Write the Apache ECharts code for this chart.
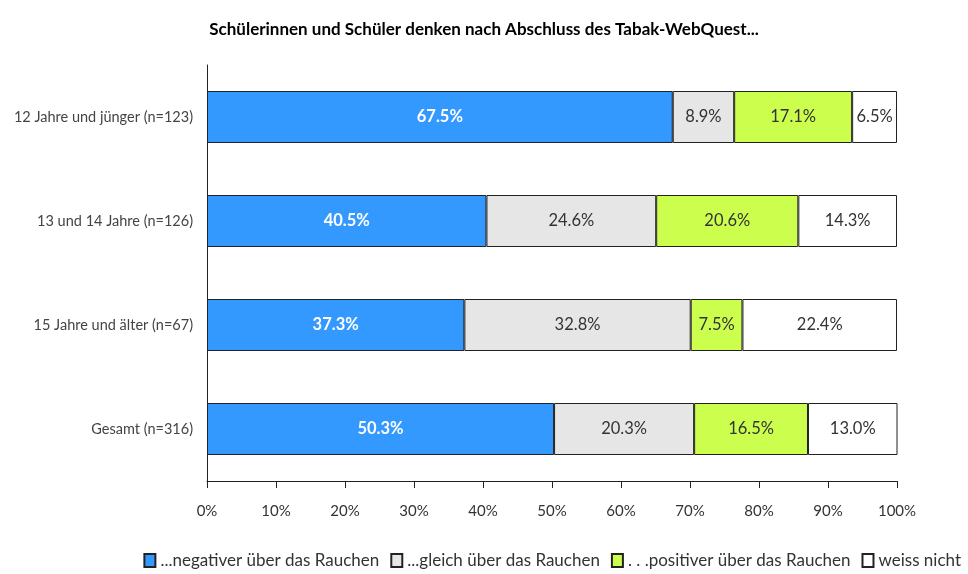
<!DOCTYPE html>
<html>
<head>
<meta charset="utf-8">
<script src="https://cdn.jsdelivr.net/npm/echarts@6/dist/echarts.min.js"></script>
<style>
html, body { margin: 0; padding: 0; background: #fff; }
#Chart { width: 968px; height: 574px; }
</style>
</head>
<body>
<div id="Chart"></div>
<script>
//Kategorien (von oben nach unten)
var categories = ['12 Jahre und jünger (n=123)', '13 und 14 Jahre (n=126)', '15 Jahre und älter (n=67)', 'Gesamt (n=316)'];
//Serien
var negativ = [67.5, 40.5, 37.3, 50.3];
var gleich = [8.9, 24.6, 32.8, 20.3];
var positiv = [17.1, 20.6, 7.5, 16.5];
var weissNicht = [6.5, 14.3, 22.4, 13.0];
var seriesNames = ['...negativer über das Rauchen', '...gleich über das Rauchen', '. . .positiver über das Rauchen', 'weiss nicht'];

var fontName = 'Lato';

function makeSeries(name, data, color, labelColor, bold) {
    return {
        name: name,
        type: 'bar',
        stack: 'total',
        barWidth: '50%',
        data: data,
        itemStyle: { color: color, borderColor: '#222', borderWidth: 1 },
        label: {
            show: true,
            position: 'inside',
            color: labelColor,
            fontFamily: fontName,
            fontSize: 16.5,
            fontWeight: bold ? 'bold' : 'normal',
            formatter: function (p) { return p.value.toFixed(1) + '%'; }
        },
        emphasis: { disabled: true }
    };
}

var myChart = echarts.init(document.getElementById('Chart'));
var option = {
    animation: false,
    title: {
        text: 'Schülerinnen und Schüler denken nach Abschluss des Tabak-WebQuest...',
        left: 'center',
        top: 16,
        textStyle: { color: '#000', fontFamily: fontName, fontSize: 17, fontWeight: 'bold' }
    },
    legend: {
        bottom: 0,
        right: 2,
        icon: 'rect',
        itemWidth: 11,
        itemHeight: 13,
        itemGap: 11,
        textStyle: { color: '#333', fontFamily: fontName, fontSize: 17 },
        data: seriesNames
    },
    grid: { left: 207, right: 71, top: 65, bottom: 93, containLabel: false },
    xAxis: {
        type: 'value',
        min: 0,
        max: 100,
        interval: 10,
        axisLine: { show: true, lineStyle: { color: '#222' } },
        axisTick: { show: true, length: 7, inside: false, lineStyle: { color: '#222' } },
        splitLine: { show: false },
        axisLabel: {
            color: '#333', fontFamily: fontName, fontSize: 15, margin: 23,
            formatter: '{value}%'
        }
    },
    yAxis: {
        type: 'category',
        inverse: true,
        data: categories,
        axisLine: { show: true, lineStyle: { color: '#222' } },
        axisTick: { show: false },
        axisLabel: { color: '#444', fontFamily: fontName, fontSize: 14.5, margin: 14 }
    },
    series: [
        makeSeries(seriesNames[0], negativ, '#3399FF', '#fff', true),
        makeSeries(seriesNames[1], gleich, '#E6E6E6', '#333', false),
        makeSeries(seriesNames[2], positiv, '#CCFF4D', '#333', false),
        makeSeries(seriesNames[3], weissNicht, '#FFFFFF', '#333', false)
    ]
};
myChart.setOption(option);
</script>
</body>
</html>
